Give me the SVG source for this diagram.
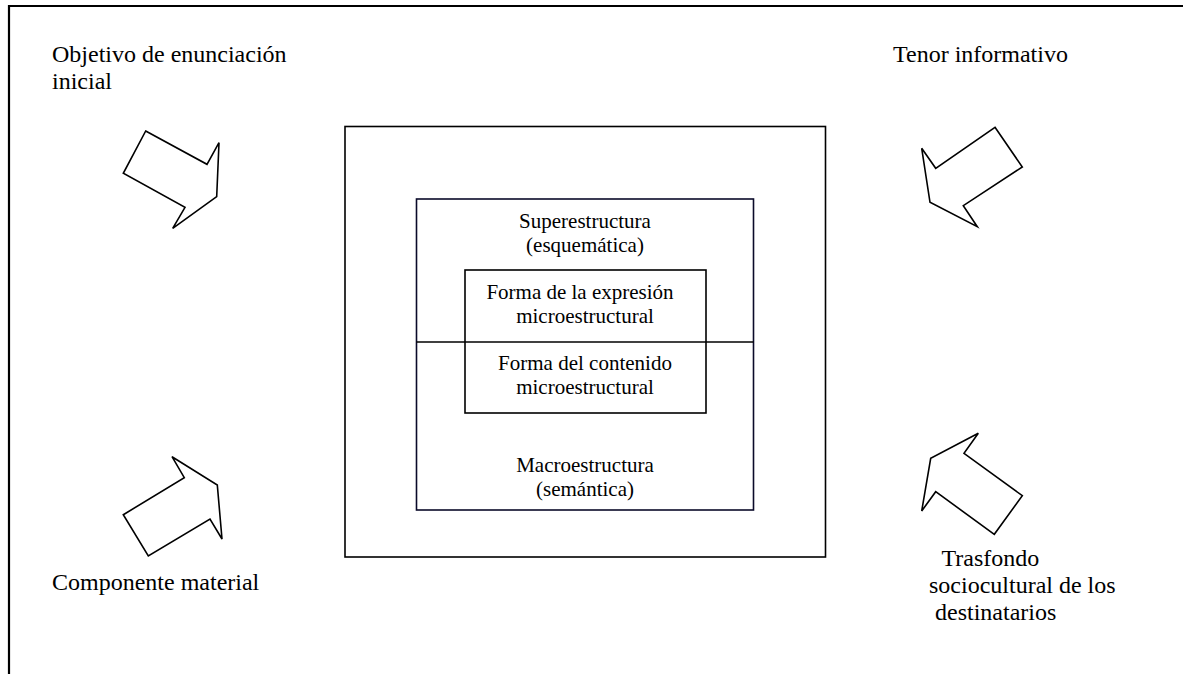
<svg xmlns="http://www.w3.org/2000/svg" width="1183" height="674" viewBox="0 0 1183 674">
<style>
.lbl{font-family:"Liberation Serif","Times New Roman",serif;font-size:24px;fill:#000}
.in{font-family:"Liberation Serif","Times New Roman",serif;font-size:21px;fill:#000;text-anchor:middle}
.arr{fill:#fff;stroke:#000;stroke-width:1.6;stroke-linejoin:miter}
.box{fill:none;stroke:#000;stroke-width:1.6}
</style>
<rect width="1183" height="674" fill="#fff"/>
<g id="frame">
<line x1="8" y1="6" x2="1183" y2="6" stroke="#000" stroke-width="2.2"/>
<line x1="9" y1="5" x2="9" y2="674" stroke="#000" stroke-width="2.2"/>
</g>
<g id="outer-box">
<rect class="box" x="345" y="126.5" width="480.5" height="430.5"/>
</g>
<g id="inner-box">
<rect x="416.5" y="199" width="337" height="311" fill="none" stroke="#0a0a2a" stroke-width="1.6"/>
<line x1="416.5" y1="342" x2="753.5" y2="342" stroke="#000" stroke-width="1.6"/>
<text class="in" x="585" y="228">Superestructura</text>
<text class="in" x="585" y="252">(esquemática)</text>
<text class="in" x="585" y="472">Macroestructura</text>
<text class="in" x="585" y="496">(semántica)</text>
</g>
<g id="micro-box">
<rect class="box" x="465" y="270" width="241" height="143"/>
<text class="in" x="580" y="299">Forma de la expresión</text>
<text class="in" x="585" y="323">microestructural</text>
<text class="in" x="585" y="370">Forma del contenido</text>
<text class="in" x="585" y="394">microestructural</text>
</g>
<g id="connectors">
<polygon class="arr" points="145.7,131 207,164.3 219,142.7 216.7,196.7 172.7,228.3 185,207.3 123.3,173.3"/>
<polygon class="arr" points="995,127.3 1022.3,167 963.3,205.7 977.3,226.7 930,202.3 921.7,148.3 935.7,168.3"/>
<polygon class="arr" points="123.3,514.7 184.3,477.7 172,456.7 217.3,485 222,539 210,519 148.3,556"/>
<polygon class="arr" points="1022.3,495.7 964,453.3 978.3,433.3 930.7,458.3 921.7,511 935.7,491.7 994.3,534.3"/>
</g>
<g id="label-objetivo">
<text class="lbl" x="52" y="62">Objetivo de enunciación</text>
<text class="lbl" x="52" y="89">inicial</text>
</g>
<g id="label-tenor">
<text class="lbl" x="893" y="62">Tenor informativo</text>
</g>
<g id="label-componente">
<text class="lbl" x="52" y="590">Componente material</text>
</g>
<g id="label-trasfondo">
<text class="lbl" x="941.5" y="566">Trasfondo</text>
<text class="lbl" x="929" y="593">sociocultural de los</text>
<text class="lbl" x="935" y="620">destinatarios</text>
</g>
</svg>
